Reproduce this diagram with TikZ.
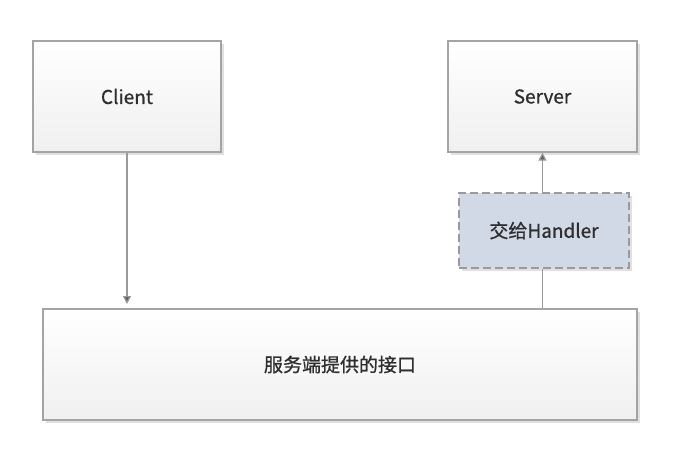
\documentclass[tikz,border=0pt]{standalone}
\usepackage{fontspec}
\setmainfont{Open Sans}
\newfontfamily\cjk[FakeBold=0.8]{Noto Sans CJK SC}
\usetikzlibrary{shadows,arrows.meta}
\definecolor{bordergray}{HTML}{A4A4A4}
\definecolor{linegray}{HTML}{9A9A9A}
\definecolor{txt}{HTML}{2E2E2E}
\definecolor{handlerfill}{HTML}{D1D8E6}
\tikzset{
  box/.style={draw=bordergray, line width=1.2pt, top color=white, bottom color=black!6,
    shading angle=0, drop shadow={shadow xshift=3pt, shadow yshift=-3pt, fill=black!12, opacity=1},
    text=txt, font=\cjk\fontsize{19}{22}\selectfont, inner sep=0pt},
  dbox/.style={draw=linegray, dash pattern=on 8pt off 4pt, line width=1.2pt, fill=handlerfill,
    drop shadow={shadow xshift=3pt, shadow yshift=-3pt, fill=black!12, opacity=1},
    text=txt, font=\cjk\fontsize{19}{22}\selectfont, inner sep=0pt},
  conn/.style={draw=linegray, line width=1.2pt},
  arr/.style={conn, -{Triangle[length=8pt, width=8pt, fill=black!62]}}
}
\begin{document}
\begin{tikzpicture}[x=1pt,y=-1pt]
\useasboundingbox (0,0) rectangle (684,466);
\node[box, minimum width=188pt, minimum height=111pt] (client) at (127,96.5) {Client};
\node[box, minimum width=189pt, minimum height=111pt] (server) at (542.5,96.5) {Server};
\node[dbox, minimum width=170pt, minimum height=75pt] (handler) at (544,230.5) {交给Handler};
\node[box, minimum width=594pt, minimum height=111pt] (iface) at (340,364.5) {服务端提供的接口};
\coordinate (ctip) at (127,304);
\draw[arr] (client.south) -- (ctip);
\draw[arr] (handler.north -| server.south) -- (server.south);
\draw[conn] (iface.north -| server.south) -- (handler.south -| server.south);
\end{tikzpicture}
\end{document}
